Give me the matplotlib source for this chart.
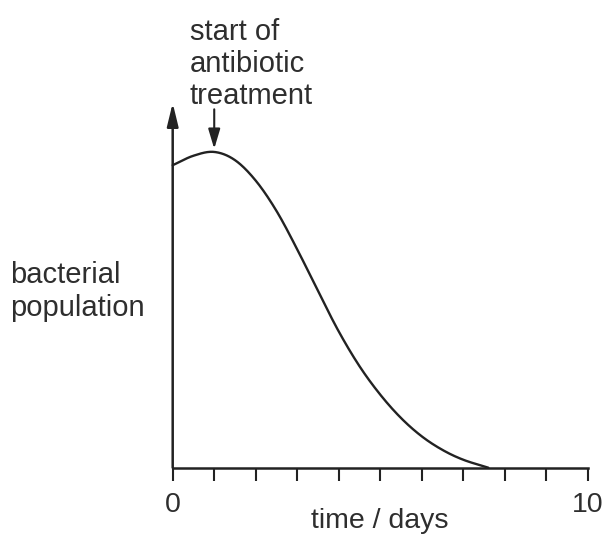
import numpy as np
import matplotlib
matplotlib.use("Agg")
import matplotlib.pyplot as plt

# ---- data ----
days = [0.0, 0.5, 1.0, 1.5, 2.0, 2.5, 3.0, 3.5, 4.0, 4.5, 5.0, 5.5, 6.0, 6.5, 7.0, 7.6]
population = [95.8, 98.8, 100.0, 97.4, 90.9, 81.3, 69.1, 55.9, 43.1, 32.1, 23.1, 15.7, 9.9, 5.6, 2.5, 0.0]
tick_positions = list(range(0, 11))
tick_labels = ["0", "", "", "", "", "", "", "", "", "", "10"]
treatment_day = 1.0
annotation_text = "start of\nantibiotic\ntreatment"
ylabel_text = "bacterial\npopulation"
xlabel_text = "time / days"


def catmull_rom(x, y, n=30):
    x = np.asarray(x, float)
    y = np.asarray(y, float)
    px = np.concatenate([[2 * x[0] - x[1]], x, [2 * x[-1] - x[-2]]])
    py = np.concatenate([[2 * y[0] - y[1]], y, [2 * y[-1] - y[-2]]])
    xs, ys = [], []
    t = np.linspace(0, 1, n, endpoint=False)
    for i in range(1, len(px) - 2):
        for arr, out in ((px, xs), (py, ys)):
            p0, p1, p2, p3 = arr[i - 1], arr[i], arr[i + 1], arr[i + 2]
            out.extend(0.5 * ((2 * p1) + (-p0 + p2) * t + (2 * p0 - 5 * p1 + 4 * p2 - p3) * t ** 2
                              + (-p0 + 3 * p1 - 3 * p2 + p3) * t ** 3))
    xs.append(x[-1])
    ys.append(y[-1])
    return np.array(xs), np.array(ys)


plt.rcParams['font.family'] = ['Liberation Sans', 'DejaVu Sans']
ink = '#222222'
txt = '#2e2e2e'

W, H = 605, 539
fig = plt.figure(figsize=(W / 100, H / 100), dpi=100)
left, right, bottom, top = 172.7, 588.0, 467.7, 103.0
ax = fig.add_axes([left / W, (H - bottom) / H, (right - left) / W, (bottom - top) / H])

YMAX = 115.5
ax.set_xlim(0, 10)
ax.set_ylim(0, YMAX)

sx, sy = catmull_rom(days, population)
sy = np.maximum(sy, 0)
ax.plot(sx, sy, color=ink, lw=1.7, solid_capstyle='round', clip_on=False)

for s in ['top', 'right', 'left']:
    ax.spines[s].set_visible(False)
ax.spines['bottom'].set_linewidth(1.8)
ax.spines['bottom'].set_color(ink)

ax.set_yticks([])
ax.set_xticks(tick_positions)
ax.set_xticklabels(tick_labels)
ax.tick_params(axis='x', direction='out', length=9.5, width=1.5, color=ink,
               pad=8, labelsize=20.5, labelcolor=txt)

# y axis with arrow head
ax.annotate('', xy=(0, YMAX), xytext=(0, 0), xycoords='data',
            arrowprops=dict(arrowstyle='-|>,head_length=0.7,head_width=0.17',
                            mutation_scale=20, lw=1.8, color=ink,
                            shrinkA=0, shrinkB=0), annotation_clip=False)

# treatment arrow
ax.annotate('', xy=(treatment_day, 101.0), xytext=(treatment_day, 113.5), xycoords='data',
            arrowprops=dict(arrowstyle='-|>,head_length=0.6,head_width=0.18',
                            mutation_scale=20, lw=1.5, color=ink,
                            shrinkA=0, shrinkB=0), annotation_clip=False)

fig.text(190 / W, (H - 18) / H, annotation_text, ha='left', va='top',
         fontsize=21, color=txt, linespacing=1.18)
fig.text(10 / W, (H - 261) / H, ylabel_text, ha='left', va='top',
         fontsize=21, color=txt, linespacing=1.22)
fig.text(380 / W, (H - 528) / H, xlabel_text, ha='center', va='baseline',
         fontsize=20.5, color=txt)

fig.savefig('out.png', dpi=100)
